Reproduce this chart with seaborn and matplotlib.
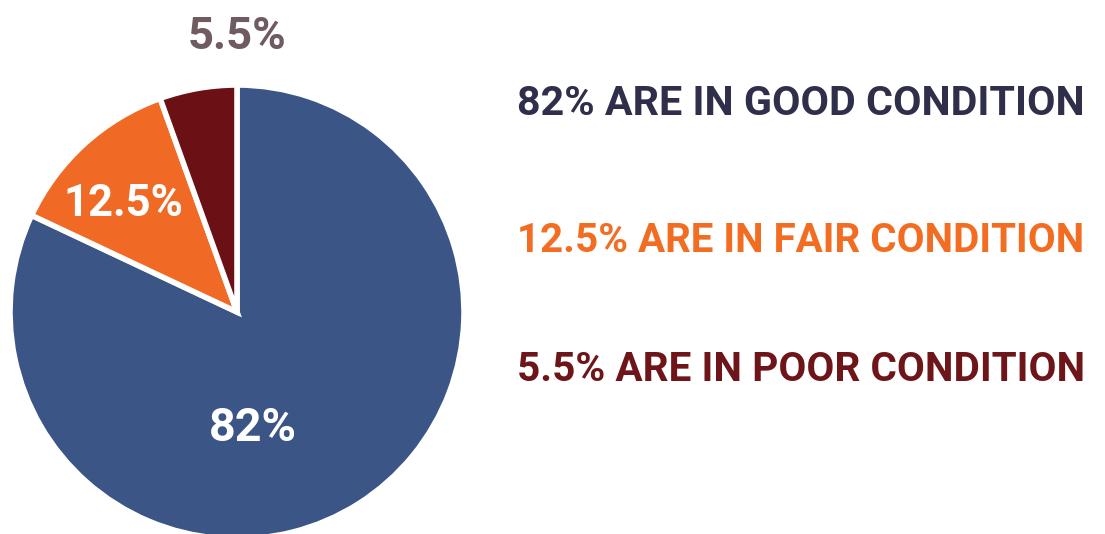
import matplotlib
matplotlib.use("Agg")
import matplotlib.pyplot as plt
import seaborn as sns

sns.set_theme(style="white")

# Data
categories = ["Good", "Fair", "Poor"]
values = [82, 12.5, 5.5]
pie_labels = ["82%", "12.5%", "5.5%"]
legend_texts = ["82% ARE IN GOOD CONDITION",
                "12.5% ARE IN FAIR CONDITION",
                "5.5% ARE IN POOR CONDITION"]

colors = sns.color_palette(["#3b5586", "#f06a25", "#6b1116"])
text_colors = ["#2f2f4b", "#f26d22", "#6e1519"]
top_label_color = "#6f5b60"

plt.rcParams['font.family'] = ["Roboto", "DejaVu Sans"]

W, H = 1105, 534
fig = plt.figure(figsize=(W / 100, H / 100), dpi=100)
fig.patch.set_facecolor("white")

cx, cy, r = 237, 312, 227
ax = fig.add_axes([(cx - r) / W, (H - cy - r) / H, 2 * r / W, 2 * r / H])
wedges, _ = ax.pie(values, colors=colors, startangle=90, counterclock=False,
                   wedgeprops=dict(edgecolor="white", linewidth=4))
ax.set_xlim(-1, 1)
ax.set_ylim(-1, 1)
ax.set_aspect("equal")
ax.axis("off")

def px(x, y):
    return ((x - cx) / r, (cy - y) / r)

renderer = fig.canvas.get_renderer()

def fit(t, target_w, max_size):
    bb = t.get_window_extent(renderer=renderer)
    s = t.get_fontsize() * target_w / bb.width
    t.set_fontsize(min(s, max_size))

kw = dict(ha="center", va="center", fontweight="bold")
t0 = ax.text(*px(253, 428), pie_labels[0], color="white", fontsize=34, **kw)
t1 = ax.text(*px(123, 204), pie_labels[1], color="white", fontsize=34, **kw)
t2 = ax.text(*px(237, 37), pie_labels[2], color=top_label_color, fontsize=34,
             clip_on=False, **kw)
fit(t0, 88, 40)
fit(t1, 120, 40)
fit(t2, 99, 40)

ys = [104, 241, 370]
targets = [568, 568, 568]
for t, c, y, tw in zip(legend_texts, text_colors, ys, targets):
    tt = fig.text(517 / W, 1 - y / H, t, color=c, fontsize=36, ha="left",
                  va="center", fontweight="bold")
    fit(tt, tw, 40)

fig.savefig("out.png", dpi=100, facecolor="white")
